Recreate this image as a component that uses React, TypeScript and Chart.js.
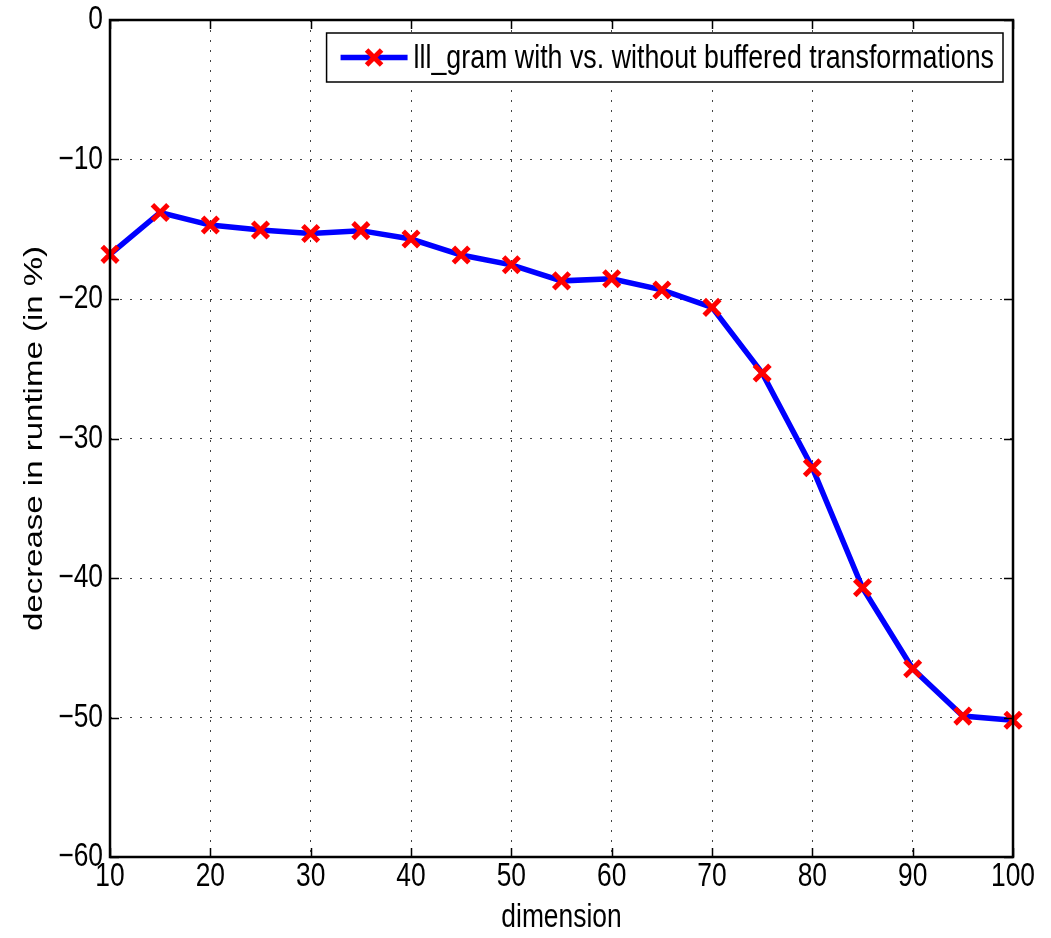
import React, { useEffect, useRef } from "react";
import { Chart, registerables } from "chart.js";

Chart.register(...registerables);

const dimensions = [10, 15, 20, 25, 30, 35, 40, 45, 50, 55, 60, 65, 70, 75, 80, 85, 90, 95, 100];
const decrease = [-16.8, -13.8, -14.7, -15.05, -15.3, -15.1, -15.7, -16.85, -17.55, -18.7, -18.55, -19.35, -20.6, -25.3, -32.1, -40.7, -46.5, -49.9, -50.2];
const seriesLabel = "lll_gram with vs. without buffered transformations";
const xTitle = "dimension";
const yTitle = "decrease in runtime (in %)";

const FONT = "'Liberation Sans', Arial, Helvetica, sans-serif";
const K = 0.8; // horizontal text compression (MATLAB export look)

function wrapScaleText(scale: any) {
  if (scale.__wrapped) return;
  scale.__wrapped = true;
  ["drawLabels", "drawTitle"].forEach((name) => {
    const orig = scale[name];
    scale[name] = function (...args: any[]) {
      const ctx = this.ctx;
      ctx.rotate = function (a: number) {
        CanvasRenderingContext2D.prototype.scale.call(this, K, 1);
        CanvasRenderingContext2D.prototype.rotate.call(this, a);
      };
      try {
        return orig.apply(this, args);
      } finally {
        delete ctx.rotate;
      }
    };
  });
}

const framePlugin = {
  id: "matlabFrame",
  beforeDraw(chart: any) {
    wrapScaleText(chart.scales.x);
    wrapScaleText(chart.scales.y);
  },
  afterDraw(chart: any) {
    const ctx = chart.ctx;
    const { left, right, top, bottom } = chart.chartArea;
    const xs = chart.scales.x;
    const ys = chart.scales.y;
    ctx.save();
    ctx.strokeStyle = "#000";
    ctx.lineWidth = 1.5;
    const tl = 9;
    ctx.beginPath();
    xs.ticks.forEach((t: any) => {
      const px = Math.round(xs.getPixelForValue(t.value)) + 0.5;
      ctx.moveTo(px, bottom);
      ctx.lineTo(px, bottom - tl);
      ctx.moveTo(px, top);
      ctx.lineTo(px, top + tl);
    });
    ys.ticks.forEach((t: any) => {
      const py = Math.round(ys.getPixelForValue(t.value)) + 0.5;
      ctx.moveTo(left, py);
      ctx.lineTo(left + tl, py);
      ctx.moveTo(right, py);
      ctx.lineTo(right - tl, py);
    });
    ctx.stroke();
    ctx.lineWidth = 2.5;
    ctx.strokeRect(left, top, right - left, bottom - top);

    // legend box (top-right, inside the axes)
    const fontSize = 33.5;
    ctx.font = `${fontSize}px ${FONT}`;
    const tw = ctx.measureText(seriesLabel).width * K;
    const padL = 14;
    const lineLen = 67;
    const gap = 6;
    const padR = 9;
    const boxH = 49;
    const boxR = right - 10;
    const boxT = top + 13;
    const boxW = padL + lineLen + gap + tw + padR;
    const boxL = boxR - boxW;
    ctx.fillStyle = "#fff";
    ctx.fillRect(boxL, boxT, boxW, boxH);
    ctx.lineWidth = 1.5;
    ctx.strokeStyle = "#000";
    ctx.strokeRect(boxL, boxT, boxW, boxH);
    const cy = boxT + boxH / 2;
    ctx.strokeStyle = "#0000ff";
    ctx.lineWidth = 5.5;
    ctx.beginPath();
    ctx.moveTo(boxL + padL, cy);
    ctx.lineTo(boxL + padL + lineLen, cy);
    ctx.stroke();
    ctx.strokeStyle = "#ff0000";
    ctx.lineWidth = 5;
    const mx = boxL + padL + lineLen / 2;
    const r = 7.5;
    ctx.beginPath();
    ctx.moveTo(mx - r, cy - r);
    ctx.lineTo(mx + r, cy + r);
    ctx.moveTo(mx + r, cy - r);
    ctx.lineTo(mx - r, cy + r);
    ctx.stroke();
    ctx.fillStyle = "#000";
    ctx.textBaseline = "middle";
    ctx.textAlign = "left";
    ctx.translate(boxL + padL + lineLen + gap, cy + 1);
    ctx.scale(K, 1);
    ctx.fillText(seriesLabel, 0, 0);
    ctx.restore();
  },
};

export default function App() {
  const ref = useRef<HTMLCanvasElement | null>(null);
  useEffect(() => {
    if (!ref.current) return;
    const points = dimensions.map((d, i) => ({ x: d, y: decrease[i] }));
    const chart = new Chart(ref.current, {
      type: "line",
      data: {
        datasets: [
          {
            label: seriesLabel,
            data: points,
            borderColor: "#0000ff",
            borderWidth: 5.5,
            pointStyle: "crossRot",
            pointRadius: 11,
            pointBorderColor: "#ff0000",
            pointBorderWidth: 5,
            pointBackgroundColor: "#ff0000",
            tension: 0,
            fill: false,
            clip: false as any,
          },
        ],
      },
      options: {
        responsive: false,
        animation: false,
        layout: { padding: { top: 20, right: 38, left: 0, bottom: 0 } },
        plugins: {
          legend: { display: false },
          tooltip: { enabled: false },
        },
        scales: {
          x: {
            type: "linear",
            min: 10,
            max: 100,
            border: { display: false, dash: [2, 8] },
            grid: {
              color: "#444",
              lineWidth: 1,
              drawTicks: false,
            },
            ticks: {
              stepSize: 10,
              padding: 0,
              color: "#000",
              font: { family: FONT, size: 33 },
            },
            title: {
              display: true,
              text: xTitle,
              color: "#000",
              font: { family: FONT, size: 33 },
              padding: { top: 0, bottom: 0 },
            },
            afterFit(scale: any) {
              scale.height = 81;
              scale.paddingLeft = 0;
              scale.paddingRight = 0;
            },
          } as any,
          y: {
            min: -60,
            max: 0,
            border: { display: false, dash: [2, 8] },
            grid: {
              color: "#444",
              lineWidth: 1,
              drawTicks: false,
            },
            ticks: {
              stepSize: 10,
              padding: 7,
              color: "#000",
              font: { family: FONT, size: 33 },
              callback: (v: any) => (Number(v) < 0 ? "\u2212" + Math.abs(Number(v)) : String(v)),
            },
            title: {
              display: true,
              text: yTitle,
              color: "#000",
              font: { family: FONT, size: 33 },
              padding: { top: 15, bottom: 0 },
            },
            afterFit(scale: any) {
              scale.width = 110;
              scale.paddingTop = 0;
              scale.paddingBottom = 0;
            },
          } as any,
        },
      },
      plugins: [framePlugin],
    });
    return () => chart.destroy();
  }, []);
  return (
    <div style={{ position: "fixed", left: 0, top: 0, width: 1051, height: 938, background: "#fff" }}>
      <canvas ref={ref} width={1051} height={938} />
    </div>
  );
}
